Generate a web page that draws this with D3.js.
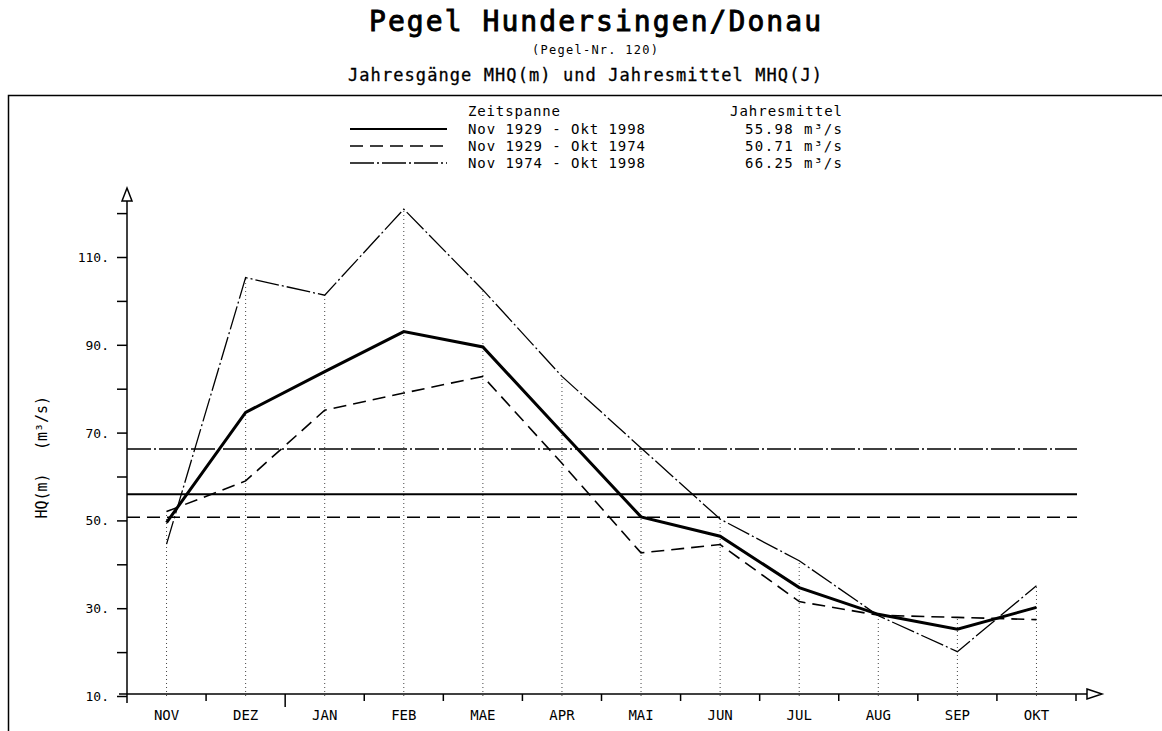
<!DOCTYPE html>
<html><head><meta charset="utf-8">
<script src="https://cdn.jsdelivr.net/npm/d3@7"></script>
<style>
body{margin:0;background:#fff}
svg{display:block}
text{font-family:"DejaVu Sans Mono",monospace;fill:#000}
</style>
</head><body>
<svg id="c" width="1162" height="731"></svg>
<script>
// ---- data ----
const months = ["NOV","DEZ","JAN","FEB","MAE","APR","MAI","JUN","JUL","AUG","SEP","OKT"];
const periodLabels = ["Nov 1929 - Okt 1998","Nov 1929 - Okt 1974","Nov 1974 - Okt 1998"];
const annualMeans = [55.98, 50.71, 66.25];
const meanLabels = ["55.98 m³/s","50.71 m³/s","66.25 m³/s"];
const mhq1929_1998 = [49.5, 74.6, 83.9, 93.0, 89.5, 70.1, 50.8, 46.4, 34.7, 28.6, 25.2, 30.2];
const mhq1929_1974 = [52.0, 59.0, 75.1, 79.0, 82.8, 63.0, 42.6, 44.5, 31.5, 28.4, 27.9, 27.4];
const mhq1974_1998 = [44.6, 105.3, 101.3, 120.9, 102.5, 82.8, 66.5, 50.3, 40.8, 28.3, 20.1, 35.1];
const yTickValues = [10,20,30,40,50,60,70,80,90,100,110,120];
const yLabelValues = [10,30,50,70,90,110];

const seriesData = [mhq1929_1998, mhq1929_1974, mhq1974_1998];
const styles = [
  {w:3, dash:null, meanW:2},
  {w:1.6, dash:"13,7", meanW:1.6},
  {w:1.3, dash:"24,3,2,3", meanW:1.4}
];

const svg = d3.select("#c");

// frame
svg.append("rect").attr("x",8.5).attr("y",95.5).attr("width",1300).attr("height",800)
  .attr("fill","none").attr("stroke","#000").attr("stroke-width",1.5);

// titles
svg.append("text").attr("x",595).attr("y",31).attr("text-anchor","middle")
  .attr("font-size",28).attr("stroke","#000").attr("stroke-width",0.9)
  .attr("textLength",452).attr("lengthAdjust","spacing")
  .text("Pegel Hundersingen/Donau");
svg.append("text").attr("x",595).attr("y",54).attr("text-anchor","middle")
  .attr("font-size",12).attr("textLength",126).attr("lengthAdjust","spacing")
  .text("(Pegel-Nr. 120)");
svg.append("text").attr("x",585).attr("y",81).attr("text-anchor","middle")
  .attr("font-size",17).attr("stroke","#000").attr("stroke-width",0.3)
  .attr("textLength",474).attr("lengthAdjust","spacing")
  .text("Jahresgänge MHQ(m) und Jahresmittel MHQ(J)");

// scales
const x = d3.scaleBand().domain(months).range([127,1076]);
const y = d3.scaleLinear().domain([10,110]).range([696,257]);
const cx = m => x(m) + x.bandwidth()/2;
const x0 = 127, yBase = y(10);

// dotted verticals up to highest value per month
months.forEach((m,i)=>{
  const top = d3.max(seriesData, s => s[i]);
  svg.append("line").attr("x1",cx(m)).attr("x2",cx(m))
    .attr("y1",yBase).attr("y2",y(top))
    .attr("stroke","#444").attr("stroke-width",1).attr("stroke-dasharray","1,3");
});

// y axis
const yAxis = d3.axisLeft(y).tickValues(yTickValues).tickSize(10).tickPadding(8)
  .tickFormat(d => yLabelValues.includes(d) ? d + "." : "");
const gy = svg.append("g").attr("transform",`translate(${x0},0)`).call(yAxis);
gy.select(".domain").remove();
gy.selectAll(".tick line").attr("stroke","#000").attr("stroke-width",1.5);
gy.selectAll(".tick text").attr("font-size",13).attr("font-family","DejaVu Sans Mono").attr("dy","0.35em");
svg.append("line").attr("x1",x0).attr("x2",x0).attr("y1",yBase+7).attr("y2",201)
  .attr("stroke","#000").attr("stroke-width",1.5);
svg.append("path").attr("d",`M${x0-5},201 L${x0},188 L${x0+5},201 Z`)
  .attr("fill","#fff").attr("stroke","#000").attr("stroke-width",1.5);

// x axis
const xAxis = d3.axisBottom(x).tickSize(0).tickPadding(16);
const gx = svg.append("g").attr("transform",`translate(0,${yBase-2})`).call(xAxis);
gx.select(".domain").remove();
gx.selectAll(".tick text").attr("font-size",14).attr("font-family","DejaVu Sans Mono").attr("font-weight","normal");
const xEnd = 1087;
svg.append("line").attr("x1",x0-8).attr("x2",xEnd).attr("y1",yBase-2).attr("y2",yBase-2)
  .attr("stroke","#000").attr("stroke-width",1.5);
svg.append("path").attr("d",`M${xEnd},${yBase-7} L${xEnd+15},${yBase-2} L${xEnd},${yBase+3} Z`)
  .attr("fill","#fff").attr("stroke","#000").attr("stroke-width",1.5);
months.concat(["_end"]).forEach((m,i)=>{
  const bx = i < months.length ? x(m) : x(months[months.length-1]) + x.bandwidth();
  if (i === 0) return;
  svg.append("line").attr("x1",bx).attr("x2",bx).attr("y1",yBase-2)
    .attr("y2", i === 2 ? yBase+11 : yBase+5)
    .attr("stroke","#000").attr("stroke-width",1.5);
});

// y label
svg.append("text").attr("transform","translate(47,496) rotate(-90)")
  .attr("text-anchor","middle").attr("font-size",15).text("HQ(m)");
svg.append("text").attr("transform","translate(47,423) rotate(-90)")
  .attr("text-anchor","middle").attr("font-size",15).text("(m³/s)");

// mean lines
annualMeans.forEach((v,i)=>{
  svg.append("line").attr("x1",x0).attr("x2",1077).attr("y1",y(v)).attr("y2",y(v))
    .attr("stroke","#000").attr("stroke-width",styles[i].meanW)
    .attr("stroke-dasharray",styles[i].dash);
});

// series
const line = d3.line().x((d,i)=>cx(months[i])).y(d=>y(d));
seriesData.forEach((s,i)=>{
  svg.append("path").attr("d",line(s)).attr("fill","none")
    .attr("stroke","#000").attr("stroke-width",styles[i].w)
    .attr("stroke-linejoin","miter")
    .attr("stroke-dasharray",styles[i].dash);
});

// legend
svg.append("text").attr("x",468).attr("y",116).attr("font-size",14)
  .attr("textLength",92).attr("lengthAdjust","spacing").text("Zeitspanne");
svg.append("text").attr("x",842).attr("y",116).attr("font-size",14).attr("text-anchor","end")
  .attr("textLength",112).attr("lengthAdjust","spacing").text("Jahresmittel");
periodLabels.forEach((lab,i)=>{
  const ly = 129 + i*17;
  svg.append("line").attr("x1",350).attr("x2",447).attr("y1",ly).attr("y2",ly)
    .attr("stroke","#000").attr("stroke-width",i===0?2:1.3)
    .attr("stroke-dasharray",styles[i].dash);
  svg.append("text").attr("x",468).attr("y",ly+5).attr("font-size",14)
    .attr("textLength",177).attr("lengthAdjust","spacing").text(lab);
  svg.append("text").attr("x",842).attr("y",ly+5).attr("font-size",14).attr("text-anchor","end")
    .attr("textLength",97).attr("lengthAdjust","spacing").text(meanLabels[i]);
});
</script>
</body></html>
